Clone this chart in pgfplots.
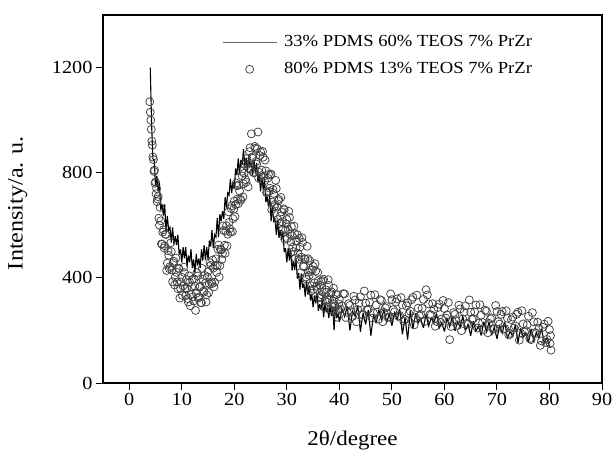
\documentclass[border=0pt]{standalone}
\usepackage{fontspec}
\setmainfont{Liberation Serif}[FakeStretch=1.1]
\newfontfamily\labelfont{Liberation Serif}[FakeStretch=1.1]
\usepackage{pgfplots}
\usepackage{pgfplotstable}
\pgfplotsset{compat=1.18}
\pgfplotsset{
  mycirclegend/.style={legend image code/.code={\draw[##1] plot coordinates {(27bp,0bp)};}},
  mylinelegend/.style={legend image code/.code={\draw[black!60, line width=0.9bp] (0bp,0bp) -- (54bp,0bp);}},
}
\begin{document}
\pgfplotstableread{
x y
4.00 1200
4.25 986
4.50 853
4.75 849
5.00 749
5.25 788
5.50 731
5.75 760
6.00 658
6.25 678
6.50 637
6.75 679
7.00 575
7.25 635
7.50 581
7.75 592
8.00 534
8.25 592
8.50 527
8.75 558
9.00 525
9.25 564
9.50 488
9.75 508
10.00 459
10.25 517
10.50 474
10.75 517
11.00 443
11.25 485
11.50 459
11.75 509
12.00 437
12.25 470
12.50 418
12.75 491
13.00 447
13.25 474
13.50 437
13.75 508
14.00 466
14.25 524
14.50 468
14.75 517
15.00 469
15.25 542
15.50 519
15.75 581
16.00 513
16.25 564
16.50 555
16.75 627
17.00 555
17.25 642
17.50 616
17.75 654
18.00 624
18.25 707
18.50 667
18.75 723
19.00 715
19.25 776
19.50 723
19.75 765
20.00 739
20.25 816
20.50 791
20.75 854
21.00 798
21.25 849
21.50 831
21.75 890
22.00 827
22.25 857
22.50 800
22.75 870
23.00 822
23.25 838
23.50 789
23.75 850
24.00 796
24.25 836
24.50 763
24.75 794
25.00 729
25.25 781
25.50 736
25.75 778
26.00 688
26.25 710
26.50 672
26.75 716
27.00 615
27.25 672
27.50 616
27.75 624
28.00 564
28.25 620
28.50 552
28.75 581
29.00 545
29.25 579
29.50 498
29.75 513
30.00 459
30.25 513
30.50 466
30.75 506
31.00 428
31.25 464
31.50 431
31.75 475
32.00 397
32.25 419
32.50 355
32.75 417
33.00 362
33.25 378
33.50 329
33.75 390
34.00 336
34.25 371
34.50 314
34.75 339
35.00 288
35.25 333
35.50 303
35.75 340
36.00 275
36.25 300
36.50 279
36.75 321
37.00 250
37.25 304
37.50 269
37.75 285
38.00 247
38.25 299
38.50 255
38.75 285
39.00 200
39.25 301
39.50 247
39.75 266
40.00 233
40.5 282
41.0 253
41.5 291
42.0 200
42.5 273
43.0 254
43.5 295
44.0 195
44.5 266
45.0 223
45.5 278
46.0 180
46.5 260
47.0 227
47.5 279
48.0 242
48.5 280
49.0 231
49.5 262
50.0 218
50.5 267
51.0 241
51.5 282
52.0 185
52.5 249
53.0 165
53.5 275
54.0 207
54.5 262
55.0 229
55.5 246
56.0 210
56.5 261
57.0 217
57.5 248
58.0 229
58.5 264
59.0 209
59.5 229
60.0 196
60.5 245
61.0 214
61.5 252
62.0 198
62.5 233
63.0 213
63.5 254
64.0 200
64.5 223
65.0 180
65.5 235
66.0 198
66.5 215
67.0 181
67.5 233
68.0 195
68.5 233
69.0 182
69.5 213
70.0 168
70.5 217
71.0 190
71.5 231
72.0 169
72.5 197
73.0 177
73.5 222
74.0 153
74.5 208
75.0 174
75.5 191
76.0 154
76.5 206
77.0 161
77.5 192
78.0 172
78.5 207
79.0 152
79.5 172
80.0 138
}\lineA
\pgfplotstableread{
x y
3.9 1070
4.0 1030
4.1 1000
4.2 965
4.3 920
4.4 905
4.5 860
4.6 850
4.7 805
4.8 810
4.9 760
5.0 765
5.1 720
5.2 740
5.3 690
5.4 700
5.50 709
5.75 600
6.00 617
6.25 528
6.50 583
6.75 522
7.00 565
7.25 456
7.50 486
7.75 443
8.00 500
8.25 385
8.50 463
8.75 403
9.00 421
9.25 359
9.50 434
9.75 360
10.00 402
10.25 369
10.50 420
10.75 332
11.00 360
11.25 308
11.50 383
11.75 336
12.00 394
12.25 312
12.50 368
12.75 341
13.00 407
13.25 327
13.50 368
13.75 305
14.00 395
14.25 346
14.50 380
14.75 335
15.00 424
15.25 377
15.50 447
15.75 378
16.00 437
16.25 383
16.50 473
16.75 447
17.00 525
17.25 446
17.50 506
17.75 493
18.00 580
18.25 493
18.50 598
18.75 566
19.00 611
19.25 574
19.50 674
19.75 625
20.00 692
20.25 679
20.50 750
20.75 682
21.00 730
21.25 695
21.50 788
21.75 758
22.00 834
22.25 764
22.50 832
22.75 817
23.00 895
23.25 948
23.50 861
23.75 800
24.00 893
24.25 833
24.50 955
24.75 801
25.00 879
25.25 810
25.50 859
25.75 769
26.00 807
26.25 727
26.50 793
26.75 741
27.00 795
27.25 688
27.50 721
27.75 680
28.00 740
28.25 622
28.50 698
28.75 635
29.00 651
29.25 586
29.50 659
29.75 582
30.00 622
30.25 584
30.50 630
30.75 537
31.00 560
31.25 500
31.50 568
31.75 513
32.00 564
32.25 471
32.50 517
32.75 479
33.00 535
33.25 442
33.50 471
33.75 395
34.00 473
34.25 409
34.50 429
34.75 370
35.00 444
35.25 381
35.50 426
35.75 356
36.00 389
36.25 328
36.50 386
36.75 347
37.00 395
37.25 313
37.50 345
37.75 317
38.00 371
38.25 280
38.50 347
38.75 301
39.00 319
39.25 272
39.50 337
39.75 280
40.00 318
40.50 294
41.00 339
41.50 269
42.00 295
42.50 253
43.00 316
43.50 279
44.00 328
44.50 259
45.00 304
45.50 281
46.00 334
46.50 266
47.00 297
47.50 243
48.00 314
48.50 269
49.00 291
49.50 250
50.00 317
50.50 271
51.00 320
51.50 257
52.00 297
52.50 242
53.00 305
53.50 273
54.00 326
54.50 249
55.00 285
55.50 261
56.00 318
56.50 355
57.00 301
57.50 259
58.00 280
58.50 234
59.00 300
59.50 244
60.00 283
60.50 259
61.00 165
61.50 235
62.00 261
62.50 219
63.00 282
63.50 244
64.00 293
64.50 224
65.00 269
65.50 245
66.00 297
66.50 228
67.00 258
67.50 203
68.00 273
68.50 227
69.00 248
69.50 206
70.00 272
70.50 224
71.00 272
71.50 207
72.00 246
72.50 189
73.00 251
73.50 217
74.00 269
74.50 190
75.00 225
75.50 199
76.00 254
76.50 165
77.00 233
77.50 189
78.00 208
78.50 160
79.00 224
79.50 166
80.00 203
80.10 150
80.20 180
80.30 125
5.625 627
5.875 668
6.125 529
6.375 574
6.625 514
6.875 566
7.125 428
7.375 503
7.625 435
7.875 533
8.125 430
8.375 457
8.625 373
8.875 475
9.125 384
9.375 437
9.625 323
9.875 384
10.125 333
10.375 441
10.625 360
10.875 393
11.125 321
11.375 408
11.625 294
11.875 366
12.125 328
12.375 396
12.625 276
12.875 420
13.125 323
13.375 364
13.625 306
13.875 436
14.125 350
14.375 409
14.625 308
14.875 404
15.125 344
15.375 458
15.625 385
15.875 468
16.125 366
16.375 447
16.625 421
16.875 509
17.125 403
17.375 508
17.625 470
17.875 598
18.125 524
18.375 578
18.625 522
18.875 651
19.125 587
19.375 664
19.625 576
19.875 661
20.125 633
20.375 761
20.625 700
20.875 753
21.125 700
21.375 805
21.625 708
21.875 798
22.125 774
22.375 854
22.625 746
22.875 880
23.125 813
23.375 856
23.625 801
23.875 900
24.125 843
24.375 891
24.625 780
24.875 865
25.125 789
25.375 881
25.625 787
25.875 848
26.125 724
26.375 779
26.625 729
26.875 791
27.125 659
27.375 736
27.625 671
27.875 771
28.125 669
28.375 693
28.625 607
28.875 706
29.125 613
29.375 663
29.625 547
29.875 605
30.125 550
30.375 653
30.625 567
30.875 595
31.125 517
31.375 597
31.625 475
31.875 540
32.125 493
32.375 550
32.625 420
32.875 553
33.125 445
33.375 473
33.625 403
33.875 520
34.125 421
34.375 465
34.625 350
34.875 431
35.125 356
35.375 454
35.625 368
35.875 421
36.125 324
36.375 372
36.625 335
36.875 389
37.125 288
37.375 355
37.625 308
37.875 393
38.125 316
38.375 341
38.625 276
38.875 361
39.125 291
39.375 336
39.625 250
39.875 301
40.25 281
40.75 340
41.25 249
41.75 302
42.25 271
42.75 330
43.25 233
43.75 304
44.25 261
44.75 350
45.25 278
45.75 307
46.25 247
46.75 336
47.25 270
47.75 317
48.25 233
48.75 286
49.25 250
49.75 339
50.25 279
50.75 308
51.25 254
51.75 325
52.25 235
52.75 294
53.25 264
53.75 317
54.25 221
54.75 334
55.25 255
55.75 284
56.25 234
56.75 335
57.25 261
57.75 302
58.25 216
58.75 287
59.25 231
59.75 314
60.25 247
60.75 306
61.25 215
61.75 268
62.25 237
62.75 296
63.25 199
63.75 270
64.25 227
64.75 316
65.25 242
65.75 271
66.25 209
66.75 298
67.25 230
67.75 277
68.25 191
68.75 244
69.25 206
69.75 295
70.25 233
70.75 261
71.25 205
71.75 275
72.25 183
72.75 241
73.25 209
73.75 261
74.25 163
74.75 275
75.25 194
75.75 221
76.25 169
76.75 268
77.25 192
77.75 231
78.25 143
78.75 212
79.25 154
79.75 235
}\circB
\begin{tikzpicture}
\begin{axis}[
  scale only axis, width=499bp, height=368bp,
  xmin=-5, xmax=90, ymin=0, ymax=1400,
  xtick={0,10,...,90}, ytick={0,400,800,1200},
  tick align=outside, xtick pos=bottom, ytick pos=left,
  major tick length=7bp,
  axis line style={line width=1.1bp},
  every tick/.style={line width=1bp, black},
  tick label style={font=\fontsize{18.5}{20}\selectfont},
  /pgf/number format/assume math mode=true,
  /pgf/number format/1000 sep={},
  scaled ticks=false,
  xlabel={\labelfont 2θ/degree},
  ylabel={\labelfont Intensity/a. u.},
  xlabel style={font=\fontsize{21}{24}\selectfont, at={(axis description cs:0.5,-0.157)}, anchor=center},
  ylabel style={font=\fontsize{22}{25}\selectfont, at={(axis description cs:-0.171,0.489)}, anchor=center},
  legend style={draw=none, fill=none, at={(rel axis cs:0.2385,0.948)}, anchor=north west,
    font=\fontsize{17}{20}\selectfont, inner sep=0pt, column sep=7bp, row sep=11bp,
    nodes={inner sep=0pt, text height=12bp, text depth=4bp}},
  legend cell align=left,
  clip=false,
]
\addplot[black, line width=1.1bp, line join=miter, miter limit=4, mylinelegend]
  table[x=x, y=y] {\lineA};
\addlegendentry{33\% PDMS 60\% TEOS 7\% PrZr}
\addplot[only marks, mark=o, mark size=4bp, mark options={draw=black!75, line width=0.75bp}, mycirclegend]
  table[x=x, y=y] {\circB};
\addlegendentry{80\% PDMS 13\% TEOS 7\% PrZr}
\end{axis}
\pgfresetboundingbox
\path[use as bounding box] ([xshift=-103bp,yshift=-69bp]current axis.south west) rectangle ([xshift=14bp,yshift=15bp]current axis.north east);
\end{tikzpicture}
\end{document}
